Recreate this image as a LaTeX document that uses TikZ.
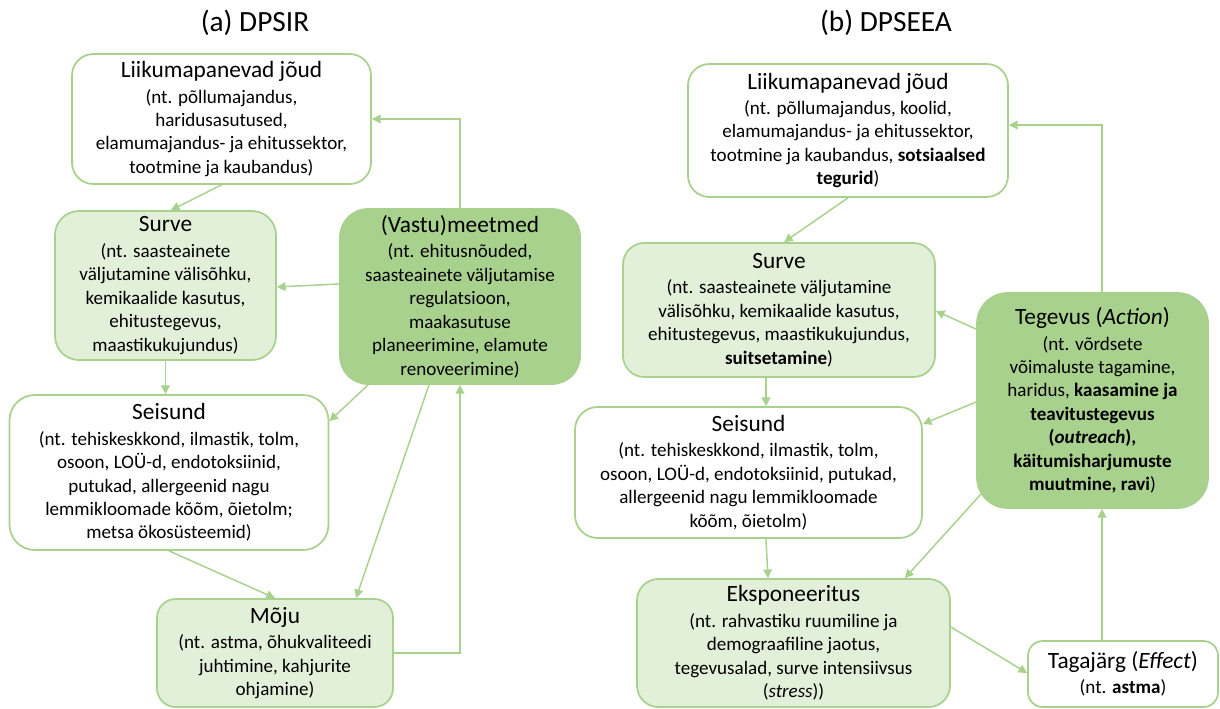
\documentclass[tikz,border=0pt]{standalone}
\usepackage{fontspec}
\setmainfont{Carlito}
\usetikzlibrary{arrows.meta}
\definecolor{grn}{HTML}{A9D18E}
\definecolor{lgrn}{HTML}{E2F0D9}
\newcommand\boxhead[1]{{\fontsize{17.5}{17.5}\selectfont #1}}
\begin{document}
\begin{tikzpicture}[x=0.75pt,y=-0.75pt,
  box/.style={draw=grn, line width=1.3pt, align=center, inner sep=0pt,
    font=\fontsize{14.3}{17.6}\selectfont},
  wbox/.style={box, fill=white},
  lbox/.style={box, fill=lgrn},
  dbox/.style={box, fill=grn},
  arr/.style={draw=grn, line width=1.1pt, -{Triangle[length=6.5pt,width=6.5pt]}},
  ttl/.style={font=\fontsize{22}{26}\selectfont, inner sep=0pt},
]
\useasboundingbox (0,0) rectangle (1220,708);

% panel titles
\node[ttl] (ta) at (255,23) {(a) DPSIR};
\node[ttl] (tb) at (886,23) {(b) DPSEEA};

% ---------- (a) DPSIR ----------
\node[wbox, rounded corners=16pt, minimum width=224.25pt, minimum height=97.5pt] (D1) at (221.5,119)
  {\boxhead{Liikumapanevad jõud}\\[1.5pt](nt. põllumajandus,\\haridusasutused,\\elamumajandus- ja ehitussektor,\\tootmine ja kaubandus)};
\node[lbox, rounded corners=18pt, minimum width=165.75pt, minimum height=111.75pt] (S1) at (165.5,285.5)
  {\boxhead{Surve}\\[1.5pt](nt. saasteainete\\väljutamine välisõhku,\\kemikaalide kasutus,\\ehitustegevus,\\maastikukujundus)};
\node[dbox, rounded corners=21pt, minimum width=180pt, minimum height=131.25pt] (R1) at (460,296.5)
  {\boxhead{(Vastu)meetmed}\\[1.5pt](nt. ehitusnõuded,\\saasteainete väljutamise\\regulatsioon,\\maakasutuse\\planeerimine, elamute\\renoveerimine)};
\node[wbox, rounded corners=19pt, minimum width=239.25pt, minimum height=116.25pt] (St1) at (169,472.5)
  {\boxhead{Seisund}\\[1.5pt](nt. tehiskeskkond, ilmastik, tolm,\\osoon, LOÜ-d, endotoksiinid,\\putukad, allergeenid nagu\\lemmikloomade kõõm, õietolm;\\metsa ökosüsteemid)};
\node[lbox, rounded corners=14pt, minimum width=177pt, minimum height=81pt] (I1) at (275,653)
  {\boxhead{Mõju}\\[1.5pt](nt. astma, õhukvaliteedi\\juhtimine, kahjurite\\ohjamine)};

\draw[arr] (D1.south) -- ([xshift=4pt]S1.north);
\draw[arr] (R1.north) |- (D1.east);
\draw[arr] ([yshift=9.4pt]R1.west) -- ([yshift=-1.1pt]S1.east);
\draw[arr] (S1.south) -- (S1.south |- St1.north);
\draw[arr] ([xshift=21.75pt]R1.south west) -- ([yshift=-20.25pt]St1.north east);
\draw[arr] ([xshift=-23.25pt]R1.south) -- ([xshift=60.75pt]I1.north);
\draw[arr] (St1.south) -- (I1.north);
\draw[arr] (I1.east) -| (R1.south);

% ---------- (b) DPSEEA ----------
\node[wbox, rounded corners=16pt, minimum width=240pt, minimum height=99.75pt] (D2) at (848,130.5)
  {\boxhead{Liikumapanevad jõud}\\[1.5pt](nt. põllumajandus, koolid,\\elamumajandus- ja ehitussektor,\\tootmine ja kaubandus, \textbf{sotsiaalsed}\\\textbf{tegurid})};
\node[lbox, rounded corners=16pt, minimum width=234pt, minimum height=100.5pt] (S2) at (779,310)
  {\boxhead{Surve}\\[1.5pt](nt. saasteainete väljutamine\\välisõhku, kemikaalide kasutus,\\ehitustegevus, maastikukujundus,\\\textbf{suitsetamine})};
\node[dbox, rounded corners=23pt, minimum width=173.25pt, minimum height=161.25pt] (A2) at (1092.5,400.5)
  {\boxhead{Tegevus (\textit{Action})}\\[1.5pt](nt. võrdsete\\võimaluste tagamine,\\haridus, \textbf{kaasamine ja}\\\textbf{teavitustegevus}\\\textbf{(\textit{outreach}),}\\\textbf{käitumisharjumuste}\\\textbf{muutmine, ravi})};
\node[wbox, rounded corners=17pt, minimum width=260.25pt, minimum height=98.25pt] (St2) at (748.5,472.5)
  {\boxhead{Seisund}\\[1.5pt](nt. tehiskeskkond, ilmastik, tolm,\\osoon, LOÜ-d, endotoksiinid, putukad,\\allergeenid nagu lemmikloomade\\kõõm, õietolm)};
\node[lbox, rounded corners=16pt, minimum width=234.75pt, minimum height=96pt] (E2) at (793.5,643)
  {\boxhead{Eksponeeritus}\\[1.5pt](nt. rahvastiku ruumiline ja\\demograafiline jaotus,\\tegevusalad, surve intensiivsus\\(\textit{stress}))};
\node[wbox, rounded corners=11pt, minimum width=142.5pt, minimum height=49.5pt] (T2) at (1123,674)
  {\boxhead{Tagajärg (\textit{Effect})}\\[1.5pt](nt. \textbf{astma})};

\coordinate (s2b) at ([xshift=-9.75pt]S2.south);
\coordinate (t2t) at ([xshift=-15.75pt]T2.north);
\draw[arr] (D2.south) -- ([xshift=3.75pt]S2.north);
\draw[arr] ([xshift=7.1pt]A2.north) |- ([yshift=4.1pt]D2.east);
\draw[arr] ([yshift=53.6pt]A2.west) -- ([yshift=-0.75pt]S2.east);
\draw[arr] (s2b) -- (s2b |- St2.north);
\draw[arr] ([yshift=-1.1pt]A2.west) -- ([yshift=36.4pt]St2.east);
\draw[arr] ([xshift=13.1pt]St2.south) -- ([xshift=-19.1pt]E2.north);
\draw[arr] ([xshift=3.75pt,yshift=11.25pt]A2.south west) -- ([xshift=-34.5pt]E2.north east);
\draw[arr] ([yshift=12pt]E2.east) -- ([yshift=0.75pt]T2.west);
\draw[arr] (t2t) -- (t2t |- A2.south);
\end{tikzpicture}
\end{document}
